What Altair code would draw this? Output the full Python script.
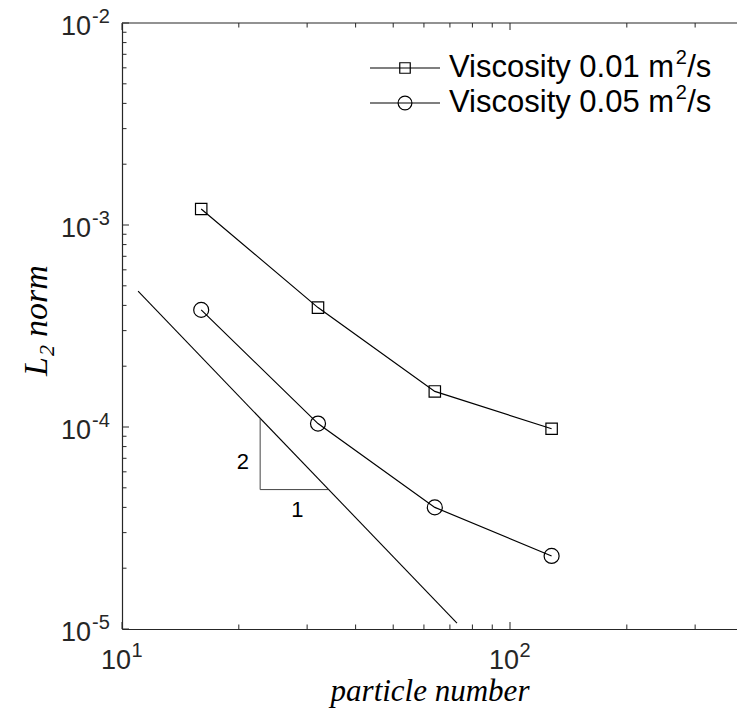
import altair as alt
import pandas as pd

# ---- data -------------------------------------------------------------
particles = [16, 32, 64, 128]
err_visc_001 = [1.2e-3, 3.9e-4, 1.5e-4, 9.8e-5]
err_visc_005 = [3.8e-4, 1.04e-4, 4.0e-5, 2.3e-5]
series_names = ["Viscosity 0.01 m²/s", "Viscosity 0.05 m²/s"]
legend_main = ["Viscosity 0.01 m", "Viscosity 0.05 m"]
legend_sup = ["2", "2"]
legend_tail = ["/s", "/s"]

# second-order reference line and its slope triangle
slope_x = [11.0, 73.0]
slope_y = [4.7e-4, 1.07e-5]
tri_x = [22.7, 22.7, 34.0]
tri_y = [1.1e-4, 4.9e-5, 4.9e-5]
tri_labels = ["2", "1"]
tri_label_x = [20.5, 28.3]
tri_label_y = [6.7e-5, 3.9e-5]

# axis ticks
x_major = [10, 100]
x_major_exp = ["1", "2"]
x_minor = [20, 30, 40, 50, 60, 70, 80, 90, 200, 300]
y_major = [1e-5, 1e-4, 1e-3, 1e-2]
y_major_exp = ["-5", "-4", "-3", "-2"]
y_minor = [m * 10.0 ** e for e in (-5, -4, -3) for m in range(2, 10)]

X_DOMAIN = [10, 384.6]
Y_DOMAIN = [1e-5, 1e-2]
W, H = 615, 606
INK = "#000000"
AXIS = "#262626"
SANS = "Liberation Sans"
SERIF = "Liberation Serif"

df = pd.DataFrame({
    "particles": particles * 2,
    "error": err_visc_001 + err_visc_005,
    "series": [series_names[0]] * 4 + [series_names[1]] * 4,
})

xs = alt.Scale(type="log", domain=X_DOMAIN, nice=False)
ys = alt.Scale(type="log", domain=Y_DOMAIN, nice=False)

x_enc = alt.X("particles:Q", scale=xs, axis=alt.Axis(
    title="particle number", labels=False, ticks=False, grid=False,
    domainColor=AXIS, domainWidth=1.2, titleFont=SERIF, titleFontSize=31,
    titleFontStyle="italic", titleFontWeight="normal", titleColor=INK,
    titlePadding=47))
y_enc = alt.Y("error:Q", scale=ys, axis=alt.Axis(
    title=None, labels=False, ticks=False, grid=False,
    domainColor=AXIS, domainWidth=1.2))

base = alt.Chart(df)
lines = base.mark_line(color=INK, strokeWidth=1.2).encode(
    x=x_enc, y=y_enc, detail="series:N")
points = base.mark_point(filled=False, color=INK, strokeWidth=1.2, opacity=1).encode(
    x="particles:Q", y="error:Q",
    shape=alt.Shape("series:N", scale=alt.Scale(domain=series_names,
                                                 range=["square", "circle"]), legend=None),
    size=alt.Size("series:N", scale=alt.Scale(domain=series_names,
                                               range=[130, 225]), legend=None),
)

slope_df = pd.DataFrame({"x": slope_x, "y": slope_y})
slope = alt.Chart(slope_df).mark_line(color=INK, strokeWidth=1.1).encode(
    x=alt.X("x:Q", scale=xs), y=alt.Y("y:Q", scale=ys))

tri_df = pd.DataFrame({"x": tri_x, "y": tri_y, "o": [0, 1, 2]})
triangle = alt.Chart(tri_df).mark_line(color="#444444", strokeWidth=1).encode(
    x=alt.X("x:Q", scale=xs), y=alt.Y("y:Q", scale=ys), order="o:Q")

tri_text_df = pd.DataFrame({"x": tri_label_x, "y": tri_label_y, "t": tri_labels})
tri_text = alt.Chart(tri_text_df).mark_text(
    font=SANS, fontSize=22, color=INK, align="center", baseline="middle").encode(
    x=alt.X("x:Q", scale=xs), y=alt.Y("y:Q", scale=ys), text="t:N")

# frame line on top
top_line = alt.Chart(pd.DataFrame({"v": [Y_DOMAIN[1]]})).mark_rule(
    color=AXIS, strokeWidth=1.2).encode(y=alt.Y("v:Q", scale=ys))

# inward ticks
def y_ticks(values, length):
    return alt.Chart(pd.DataFrame({"v": values})).mark_tick(
        orient="horizontal", size=length, thickness=1, color=AXIS,
        xOffset=length / 2, opacity=1).encode(
        x=alt.value(0), y=alt.Y("v:Q", scale=ys))

def x_ticks(values, length, top=False):
    return alt.Chart(pd.DataFrame({"v": values})).mark_tick(
        orient="vertical", size=length, thickness=1, color=AXIS,
        yOffset=(length / 2 if top else -length / 2), opacity=1).encode(
        x=alt.X("v:Q", scale=xs), y=alt.value(0 if top else H))

ticks = [
    y_ticks(y_major, 7), y_ticks(y_minor, 4.5),
    x_ticks(x_major, 7), x_ticks(x_minor, 4.5),
    x_ticks(x_major, 7, top=True), x_ticks(x_minor, 4.5, top=True),
]

# power-of-ten tick labels
ylab_df = pd.DataFrame({"v": y_major, "e": y_major_exp})
ylab_base = alt.Chart(ylab_df).mark_text(
    font=SANS, fontSize=27, color=AXIS, align="right", baseline="middle",
    dx=-31, dy=4).encode(x=alt.value(0), y=alt.Y("v:Q", scale=ys), text=alt.value("10"))
ylab_exp = alt.Chart(ylab_df).mark_text(
    font=SANS, fontSize=20, color=AXIS, align="left", baseline="middle",
    dx=-30, dy=-6).encode(x=alt.value(0), y=alt.Y("v:Q", scale=ys), text="e:N")

xlab_df = pd.DataFrame({"v": x_major, "e": x_major_exp})
xlab_base = alt.Chart(xlab_df).mark_text(
    font=SANS, fontSize=27, color=AXIS, align="right", baseline="middle",
    dx=9, dy=32).encode(x=alt.X("v:Q", scale=xs), y=alt.value(H), text=alt.value("10"))
xlab_exp = alt.Chart(xlab_df).mark_text(
    font=SANS, fontSize=20, color=AXIS, align="left", baseline="middle",
    dx=9.5, dy=22).encode(x=alt.X("v:Q", scale=xs), y=alt.value(H), text="e:N")

# y title: italic L with a subscript 2, then "norm", read bottom to top
title_font = 34
y_title = [
    alt.Chart(alt.Data(values=[{"t": "L"}])).mark_text(
        font=SERIF, fontStyle="italic", fontSize=title_font, color=INK, angle=270,
        align="left", baseline="alphabetic").encode(
        x=alt.value(-75), y=alt.value(353), text="t:N"),
    alt.Chart(alt.Data(values=[{"t": "2"}])).mark_text(
        font=SERIF, fontStyle="italic", fontSize=22, color=INK, angle=270,
        align="left", baseline="alphabetic").encode(
        x=alt.value(-68), y=alt.value(333), text="t:N"),
    alt.Chart(alt.Data(values=[{"t": "norm"}])).mark_text(
        font=SERIF, fontStyle="italic", fontSize=title_font, color=INK, angle=270,
        align="left", baseline="alphabetic").encode(
        x=alt.value(-75), y=alt.value(314), text="t:N"),
]

# legend drawn by hand: line sample with marker, then label with superscript
LEG_FONT = 31
main_w = 7.28 * LEG_FONT  # advance of "Viscosity 0.0x m" in Arial metrics
legend_layers = []
for i, (shape, size, row_y) in enumerate(zip(["square", "circle"], [110, 190], [45, 80])):
    ld = alt.Data(values=[{"a": legend_main[i], "b": legend_sup[i], "c": legend_tail[i]}])
    legend_layers.append(alt.Chart(ld).mark_rule(color=INK, strokeWidth=1.2).encode(
        x=alt.value(248), x2=alt.value(318), y=alt.value(row_y)))
    legend_layers.append(alt.Chart(ld).mark_point(
        shape=shape, size=size, filled=False, color=INK, strokeWidth=1.2, opacity=1).encode(
        x=alt.value(283), y=alt.value(row_y)))
    legend_layers.append(alt.Chart(ld).mark_text(
        font=SANS, fontSize=LEG_FONT, color=INK, align="left", baseline="middle").encode(
        x=alt.value(327), y=alt.value(row_y), text="a:N"))
    legend_layers.append(alt.Chart(ld).mark_text(
        font=SANS, fontSize=20, color=INK, align="left", baseline="middle", dy=-10).encode(
        x=alt.value(327 + main_w + 1), y=alt.value(row_y), text="b:N"))
    legend_layers.append(alt.Chart(ld).mark_text(
        font=SANS, fontSize=LEG_FONT, color=INK, align="left", baseline="middle").encode(
        x=alt.value(327 + main_w + 12.5), y=alt.value(row_y), text="c:N"))

chart = alt.layer(
    lines, points, slope, triangle, tri_text, top_line, *ticks,
    ylab_base, ylab_exp, xlab_base, xlab_exp, *y_title, *legend_layers,
).properties(
    width=W, height=H,
    padding={"left": 122, "top": 23, "right": 0, "bottom": 80},
    autosize=alt.AutoSizeParams(type="none"),
    background="white",
).configure_view(stroke=None)

chart.save("out.html", embed_options={"renderer": "svg", "actions": False})
